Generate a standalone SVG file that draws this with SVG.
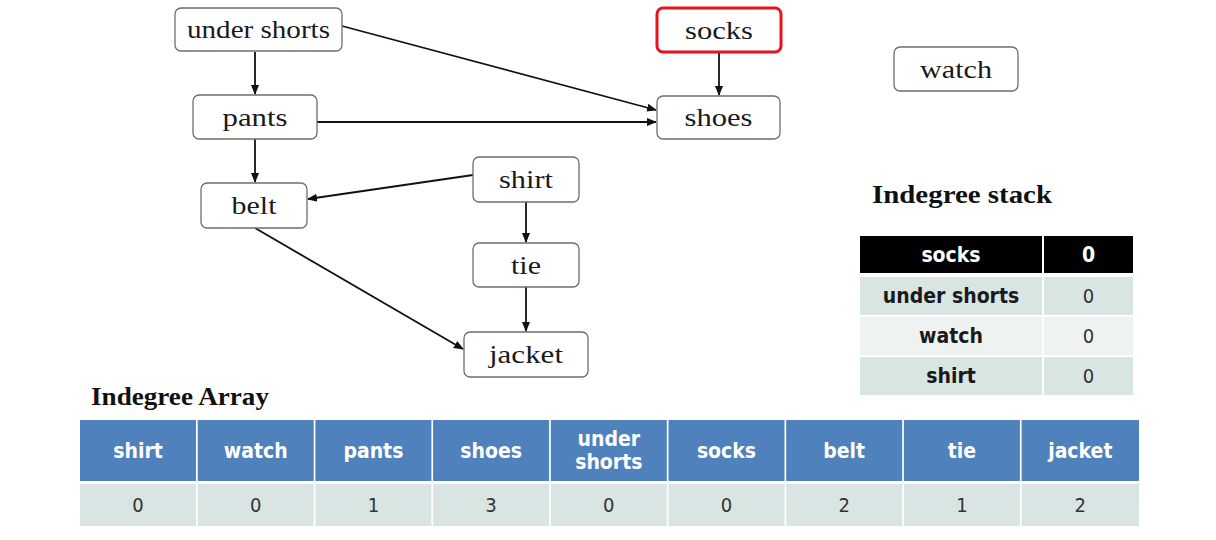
<svg xmlns="http://www.w3.org/2000/svg" width="1216" height="540" viewBox="0 0 1216 540">
<style>
.node rect{fill:#fff;stroke:#6e6e6e;stroke-width:1.3}
.node text{font-family:"Liberation Serif","Times New Roman",serif;font-size:25px;fill:#1a1a1a;text-anchor:middle}
#n-socks rect{stroke:#e8131b;stroke-width:3}
.edge{stroke:#111;stroke-width:1.8;fill:none;marker-end:url(#ah)}
.title{font-family:"Liberation Serif","Times New Roman",serif;font-size:25px;font-weight:bold;fill:#111}
.th{fill:#4f81bd}
.td{fill:#d9e5e3}
.td2{fill:#eef2f1}
.blk{fill:#000}
.t{font-family:"DejaVu Sans Condensed","DejaVu Sans",sans-serif;font-size:21px;text-anchor:middle}
.hb{font-weight:bold;fill:#fff}
.db{font-weight:bold;fill:#1a1a1a}
.num{fill:#333;font-size:20px}
</style>
<defs>
<marker id="ah" markerWidth="10" markerHeight="10" refX="9" refY="5" orient="auto" markerUnits="userSpaceOnUse">
<path d="M0,1 L10,5 L0,9 Z" fill="#111"/>
</marker>
</defs>
<g id="connectors">
<line class="edge" x1="255" y1="52" x2="255" y2="94"/>
<line class="edge" x1="342" y1="26" x2="656" y2="110"/>
<line class="edge" x1="317" y1="122" x2="656" y2="122"/>
<line class="edge" x1="719" y1="53" x2="719" y2="95"/>
<line class="edge" x1="255" y1="139" x2="255" y2="182"/>
<line class="edge" x1="473" y1="175" x2="308" y2="199"/>
<line class="edge" x1="526" y1="202" x2="526" y2="242"/>
<line class="edge" x1="255" y1="228" x2="463" y2="349"/>
<line class="edge" x1="526" y1="287" x2="526" y2="331"/>
</g>
<g id="n-undershorts" class="node"><rect x="175" y="8" width="167" height="43" rx="6"/><text x="258.5" y="37.5" textLength="143" lengthAdjust="spacingAndGlyphs">under shorts</text></g>
<g id="n-pants" class="node"><rect x="193" y="95" width="124" height="44" rx="6"/><text x="255" y="125.5" textLength="65" lengthAdjust="spacingAndGlyphs">pants</text></g>
<g id="n-socks" class="node"><rect x="657" y="8" width="124" height="44" rx="6"/><text x="719" y="38.5" textLength="68" lengthAdjust="spacingAndGlyphs">socks</text></g>
<g id="n-shoes" class="node"><rect x="657" y="96" width="123" height="43" rx="6"/><text x="718.5" y="125.5" textLength="68" lengthAdjust="spacingAndGlyphs">shoes</text></g>
<g id="n-watch" class="node"><rect x="894" y="47" width="124" height="44" rx="6"/><text x="956" y="77.5" textLength="72" lengthAdjust="spacingAndGlyphs">watch</text></g>
<g id="n-belt" class="node"><rect x="201" y="183" width="106" height="45" rx="6"/><text x="254" y="214" textLength="45" lengthAdjust="spacingAndGlyphs">belt</text></g>
<g id="n-shirt" class="node"><rect x="473" y="157" width="106" height="45" rx="6"/><text x="526" y="188" textLength="54" lengthAdjust="spacingAndGlyphs">shirt</text></g>
<g id="n-tie" class="node"><rect x="473" y="243" width="106" height="44" rx="6"/><text x="526" y="273.5" textLength="30" lengthAdjust="spacingAndGlyphs">tie</text></g>
<g id="n-jacket" class="node"><rect x="464" y="332" width="124" height="45" rx="6"/><text x="526" y="363" textLength="74" lengthAdjust="spacingAndGlyphs">jacket</text></g>

<g id="indegree-stack">
<text class="title" x="872" y="203" textLength="180" lengthAdjust="spacingAndGlyphs">Indegree stack</text>
<rect class="blk" x="860" y="236" width="182" height="37"/>
<rect class="blk" x="1044" y="236" width="89" height="37"/>
<rect class="td" x="860" y="277" width="182" height="38"/>
<rect class="td" x="1044" y="277" width="89" height="38"/>
<rect class="td2" x="860" y="317" width="182" height="38"/>
<rect class="td2" x="1044" y="317" width="89" height="38"/>
<rect class="td" x="860" y="357" width="182" height="38"/>
<rect class="td" x="1044" y="357" width="89" height="38"/>
<text class="t hb" x="951" y="262">socks</text>
<text class="t hb" x="1088.5" y="262">0</text>
<text class="t db" x="951" y="303">under shorts</text>
<text class="t num" x="1088.5" y="303">0</text>
<text class="t db" x="951" y="343">watch</text>
<text class="t num" x="1088.5" y="343">0</text>
<text class="t db" x="951" y="383">shirt</text>
<text class="t num" x="1088.5" y="383">0</text>
</g>

<g id="indegree-array">
<text class="title" x="91" y="405" textLength="178" lengthAdjust="spacingAndGlyphs">Indegree Array</text>
<rect class="th" x="80" y="420" width="116" height="61"/>
<rect class="th" x="197.7" y="420" width="116" height="61"/>
<rect class="th" x="315.4" y="420" width="116" height="61"/>
<rect class="th" x="433.1" y="420" width="116" height="61"/>
<rect class="th" x="550.8" y="420" width="116" height="61"/>
<rect class="th" x="668.5" y="420" width="116" height="61"/>
<rect class="th" x="786.2" y="420" width="116" height="61"/>
<rect class="th" x="903.9" y="420" width="116" height="61"/>
<rect class="th" x="1021.6" y="420" width="117.4" height="61"/>
<rect class="td" x="80" y="484" width="116" height="42"/>
<rect class="td" x="197.7" y="484" width="116" height="42"/>
<rect class="td" x="315.4" y="484" width="116" height="42"/>
<rect class="td" x="433.1" y="484" width="116" height="42"/>
<rect class="td" x="550.8" y="484" width="116" height="42"/>
<rect class="td" x="668.5" y="484" width="116" height="42"/>
<rect class="td" x="786.2" y="484" width="116" height="42"/>
<rect class="td" x="903.9" y="484" width="116" height="42"/>
<rect class="td" x="1021.6" y="484" width="117.4" height="42"/>
<text class="t hb" x="138" y="458">shirt</text>
<text class="t hb" x="255.7" y="458">watch</text>
<text class="t hb" x="373.4" y="458">pants</text>
<text class="t hb" x="491.1" y="458">shoes</text>
<text class="t hb" x="608.8" y="446">under</text>
<text class="t hb" x="608.8" y="469">shorts</text>
<text class="t hb" x="726.5" y="458">socks</text>
<text class="t hb" x="844.2" y="458">belt</text>
<text class="t hb" x="961.9" y="458">tie</text>
<text class="t hb" x="1080.3" y="458">jacket</text>
<text class="t num" x="138" y="512">0</text>
<text class="t num" x="255.7" y="512">0</text>
<text class="t num" x="373.4" y="512">1</text>
<text class="t num" x="491.1" y="512">3</text>
<text class="t num" x="608.8" y="512">0</text>
<text class="t num" x="726.5" y="512">0</text>
<text class="t num" x="844.2" y="512">2</text>
<text class="t num" x="961.9" y="512">1</text>
<text class="t num" x="1080.3" y="512">2</text>
</g>
</svg>
